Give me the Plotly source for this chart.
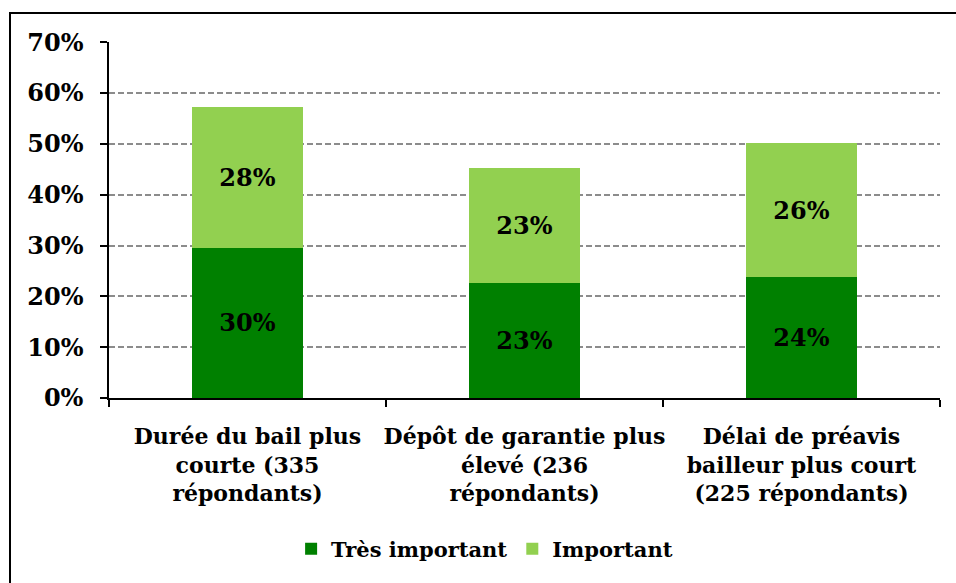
import plotly.graph_objects as go

# Survey results: share of respondents rating each lease change
categories = [
    "Durée du bail plus<br>courte (335<br>répondants)",
    "Dépôt de garantie plus<br>élevé (236<br>répondants)",
    "Délai de préavis<br>bailleur plus court<br>(225 répondants)",
]
tres_important = [0.296, 0.226, 0.238]
important = [0.277, 0.227, 0.263]
y_ticks = [0, 0.1, 0.2, 0.3, 0.4, 0.5, 0.6, 0.7]

FONT = "DejaVu Serif"
W, H = 956, 583
L, R, T, B = 109, 16, 42, 185

fig = go.Figure()
for vals, name, color in [(tres_important, "Très important", "#008000"),
                          (important, "Important", "#92D050")]:
    fig.add_trace(go.Bar(
        x=categories, y=vals, name=name,
        marker=dict(color=color, line=dict(width=0)),
        texttemplate="%{y:.0%}", textposition="inside",
        insidetextanchor="middle",
        textfont=dict(family=FONT, size=24, color="black", weight="bold"),
    ))

pw = W - L - R
ph = H - T - B

def px_x(p):
    return (p - L) / pw

def px_y(p):
    return (H - B - p) / ph

fig.update_layout(
    width=W, height=H,
    margin=dict(l=L, r=R, t=T, b=B, autoexpand=False),
    barmode="stack", bargap=0.6,
    plot_bgcolor="white", paper_bgcolor="white",
    font=dict(family=FONT, size=21, color="black", weight="bold"),
    showlegend=True,
    legend=dict(orientation="h", x=0.452, xanchor="center", y=px_y(549), yanchor="middle",
                font=dict(family=FONT, size=21, color="black", weight="bold"),
                traceorder="normal"),
    uniformtext=dict(mode=False),
    shapes=[dict(type="rect", xref="paper", yref="paper",
                 x0=px_x(10), x1=px_x(1000), y0=px_y(640), y1=px_y(13),
                 line=dict(color="black", width=2), fillcolor="rgba(0,0,0,0)", layer="below")],
)
fig.update_xaxes(
    showline=True, linecolor="black", linewidth=1.5,
    ticks="outside", ticklen=7, tickcolor="black", tickwidth=1.5,
    tickson="boundaries", showgrid=False, tickangle=0, automargin=False,
    ticklabelstandoff=18,
    tickfont=dict(family=FONT, size=22, color="black", weight="bold"),
)
fig.update_yaxes(
    range=[0, 0.7005], tickvals=y_ticks, tickformat=".0%",
    showline=True, linecolor="black", linewidth=1.5,
    ticks="outside", ticklen=7, tickcolor="black", tickwidth=1.5,
    showgrid=True, gridcolor="#8c8c8c", gridwidth=2, griddash="6px,3px",
    zeroline=False, automargin=False, ticklabelstandoff=12,
    tickfont=dict(family=FONT, size=24, color="black", weight="bold"),
)

fig.write_html("out.html")
